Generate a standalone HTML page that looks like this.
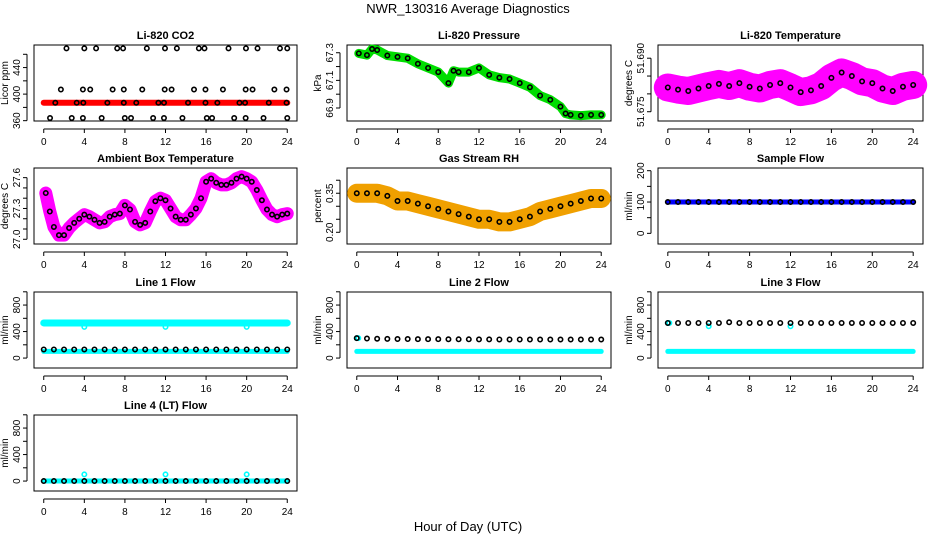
<!DOCTYPE html>
<html><head><meta charset="utf-8"><style>
body{margin:0;background:#fff;}
svg{display:block;font-family:"Liberation Sans",sans-serif;}
</style></head><body>
<svg id="chart" width="936" height="540" viewBox="0 0 936 540">
<text x="468" y="13" text-anchor="middle" font-size="13">NWR_130316  Average Diagnostics</text>
<text x="468" y="531" text-anchor="middle" font-size="13">Hour of Day (UTC)</text>
</svg>
<script>
const hours = [0,1,2,3,4,5,6,7,8,9,10,11,12,13,14,15,16,17,18,19,20,21,22,23,24];
const xTicks = [0,4,8,12,16,20,24];
// CO2
const co2Band = [387,387,387,387,387,387,387,387,387,387,387,387,387,387,387,387,387,387,387,387,387,387,387,387,387];
const co2PtsHours = [2.24,4.0,5.16,7.24,7.82,10.16,11.95,13.12,15.29,15.84,18.21,19.93,21.07,23.28,24.0,1.69,3.86,4.58,6.79,7.89,9.71,11.92,12.6,14.81,15.94,17.66,19.9,20.58,22.73,23.93,1.14,3.25,3.9,6.27,7.89,9.12,11.3,11.85,14.22,15.94,17.11,19.29,19.84,22.18,23.93,0.62,2.76,3.86,5.71,7.99,8.6,10.78,11.85,13.67,16.07,16.59,18.77,19.9,21.66,24];
const co2PtsValues = [469,469,469,469,469,469,469,469,469,469,469,469,469,469,469,407,407,407,407,407,407,407,407,407,407,407,407,407,407,407,387,387,387,387,387,387,387,387,387,387,387,387,387,387,387,364,364,364,364,364,364,364,364,364,364,364,364,364,364,364];
// Pressure
const presHours = [0.2,1,1.5,2,3,4,5,6,7,8,9,9.5,10,11,12,13,14,15,16,17,18,19,20,20.5,21,22,23,24];
const presValues = [67.295,67.283,67.327,67.32,67.28,67.27,67.26,67.22,67.19,67.16,67.08,67.17,67.16,67.16,67.19,67.14,67.12,67.11,67.08,67.05,66.99,66.96,66.91,66.86,66.85,66.845,66.85,66.85];
// Li-820 temperature
const ltHours = [0,1,2,3,4,5,6,7,8,9,10,11,12,13,14,15,16,17,18,19,20,21,22,23,24];
const ltValues = [51.6818,51.6812,51.6808,51.6815,51.6822,51.6828,51.6822,51.6830,51.6820,51.6815,51.6825,51.6830,51.6818,51.6805,51.6810,51.6822,51.6845,51.6860,51.6850,51.6835,51.6830,51.6815,51.6808,51.6820,51.6825];
// Ambient box temperature
const ambHours = [0.2,0.6,1,1.5,2,2.5,3,3.5,4,4.5,5,5.5,6,6.5,7,7.5,8,8.5,9,9.5,10,10.5,11,11.5,12,12.5,13,13.5,14,14.5,15,15.5,16,16.5,17,17.5,18,18.5,19,19.5,20,20.5,21,21.5,22,22.5,23,23.5,24];
const ambValues = [27.45,27.27,27.12,27.04,27.04,27.11,27.16,27.2,27.24,27.22,27.19,27.16,27.17,27.22,27.24,27.25,27.33,27.29,27.17,27.14,27.16,27.27,27.37,27.4,27.38,27.3,27.22,27.19,27.19,27.24,27.3,27.4,27.56,27.59,27.55,27.53,27.53,27.55,27.59,27.61,27.59,27.56,27.48,27.38,27.29,27.24,27.22,27.24,27.25];
// Gas stream RH
const rhHours = [0,1,2,3,4,5,6,7,8,9,10,11,12,13,14,15,16,17,18,19,20,21,22,23,24];
const rhValues = [0.35,0.35,0.35,0.34,0.32,0.32,0.31,0.30,0.29,0.28,0.27,0.26,0.25,0.25,0.24,0.24,0.25,0.26,0.28,0.29,0.30,0.31,0.32,0.33,0.33];
// Flows
const sampleFlow = [100,100,100,100,100,100,100,100,100,100,100,100,100,100,100,100,100,100,100,100,100,100,100,100,100];
const line1High = [530,530,530,530,530,530,530,530,530,530,530,530,530,530,530,530,530,530,530,530,530,530,530,530,530];
const line1Low = [100,100,100,100,100,100,100,100,100,100,100,100,100,100,100,100,100,100,100,100,100,100,100,100,100];
const line1Black = [130,130,130,130,130,130,130,130,130,130,130,130,130,130,130,130,130,130,130,130,130,130,130,130,130];
const line2Cyan = [100,100,100,100,100,100,100,100,100,100,100,100,100,100,100,100,100,100,100,100,100,100,100,100,100];
const line2Black = [300,295,292,290,288,287,286,285,285,284,283,283,282,282,281,281,281,280,280,280,280,280,280,280,280];
const line3Cyan = [100,100,100,100,100,100,100,100,100,100,100,100,100,100,100,100,100,100,100,100,100,100,100,100,100];
const line3Black = [530,530,530,530,530,530,540,530,530,530,530,530,530,530,530,530,530,530,530,530,530,530,530,530,530];
const line4Cyan = [0,0,0,0,0,0,0,0,0,0,0,0,0,0,0,0,0,0,0,0,0,0,0,0,0];
const line4Black = [0,0,0,0,0,0,0,0,0,0,0,0,0,0,0,0,0,0,0,0,0,0,0,0,0];
const spikeHours = [4,12,20];
const line1Dips = [470,470,470];
const line4Spikes = [100,100,100];
const startHours = [0,0.15];
const line2Start = [300,300];
const line3Start = [530,530];
const line3DipHours = [4,12];
const line3Dips = [480,480];

const svg = document.getElementById('chart');
const NS = 'http://www.w3.org/2000/svg';
const cols = [[34,297],[347,611],[658,923]];
const rowTops = [45,168,292,415];
const H = 76;
function mk(tag, attrs, parent){const e=document.createElementNS(NS,tag);for(const k in attrs)e.setAttribute(k,attrs[k]);(parent||svg).appendChild(e);return e;}

function panel(col,row,name,title,ylab,ylim,ticks,labels){
  const L=cols[col][0],R=cols[col][1],T=rowTops[row],B=T+H,W=R-L,pad=W*0.04/1.08;
  const g=mk('g',{});
  
  
  const sx=h=>L+pad+h/24*(W-2*pad);
  const sy=v=>B-(v-ylim[0])/(ylim[1]-ylim[0])*H;
  const box=mk('rect',{x:L,y:T,width:W,height:H,fill:'none',stroke:'#000','stroke-width':1},g);
  
  
  const tt=mk('text',{x:(L+R)/2,y:T-6,'text-anchor':'middle','font-size':11,'font-weight':'bold'},g);
  tt.textContent=title;
  
  
  mk('line',{x1:sx(0),x2:sx(24),y1:B+8,y2:B+8,stroke:'#000'},g);
  xTicks.forEach(t=>{
    mk('line',{x1:sx(t),x2:sx(t),y1:B+8,y2:B+12,stroke:'#000'},g);
    const tx=mk('text',{x:sx(t),y:B+24,'text-anchor':'middle','font-size':10},g);
    tx.textContent=t;
    
    
  });
  mk('line',{x1:L-7,x2:L-7,y1:sy(ticks[0]),y2:sy(ticks[ticks.length-1]),stroke:'#000'},g);
  ticks.forEach((t,i)=>{
    mk('line',{x1:L-11,x2:L-7,y1:sy(t),y2:sy(t),stroke:'#000'},g);
    if(labels[i]){
      const ty=mk('text',{x:L-14,y:sy(t),'text-anchor':'middle','font-size':10,transform:`rotate(-90 ${L-14} ${sy(t)})`},g);
      ty.textContent=labels[i];
      
      
    }
  });
  const yl=mk('text',{x:L-26,y:(T+B)/2,'text-anchor':'middle','font-size':10,transform:`rotate(-90 ${L-26} ${(T+B)/2})`},g);
  yl.textContent=ylab;
  
  
  const clip=mk('g',{},g);
  return {
    band(xs,ys,color,w,nm){
      const p=mk('polyline',{points:xs.map((h,i)=>sx(h)+','+sy(ys[i])).join(' '),fill:'none',stroke:color,'stroke-width':w,'stroke-linejoin':'round','stroke-linecap':'round'},clip);
      
      
    },
    pts(xs,ys,color,nm,r){
      xs.forEach((h,i)=>{
        const c=mk('circle',{cx:sx(h),cy:sy(ys[i]),r:r||2.2,fill:'none',stroke:color,'stroke-width':1.6},clip);
        
        
      });
    }
  };
}

let p;
p=panel(0,0,'co2','Li-820 CO2','Licor ppm',[359.5,474],[360,380,400,420,440,460],['360','','400','','440','']);
p.band(hours,co2Band,'#ff0000',6,'co2-band');
p.pts(co2PtsHours,co2PtsValues,'#000','co2-point');

p=panel(1,0,'pressure','Li-820 Pressure','kPa',[66.806,67.356],[66.9,67.0,67.1,67.2,67.3],['66.9','','67.1','','67.3']);
p.band(presHours,presValues,'#00dd00',9,'pressure-band');
p.pts(presHours,presValues,'#000','pressure-point');

p=panel(2,0,'li820-temp','Li-820 Temperature','degrees C',[51.6724,51.6937],[51.675,51.680,51.685,51.690],['51.675','','','51.690']);
p.band(ltHours,ltValues,'#ff00ff',28,'li820-temp-band');
p.pts(ltHours,ltValues,'#000','li820-temp-point');

p=panel(0,1,'ambient','Ambient Box Temperature','degrees C',[26.954,27.694],[27.0,27.1,27.2,27.3,27.4,27.5,27.6],['27.0','','','27.3','','','27.6']);
p.band(ambHours,ambValues,'#ff00ff',13,'ambient-band');
p.pts(ambHours,ambValues,'#000','ambient-point');

p=panel(1,1,'rh','Gas Stream RH','percent',[0.155,0.447],[0.20,0.25,0.30,0.35,0.40],['0.20','','','0.35','']);
p.band(rhHours,rhValues,'#f0a000',19,'rh-band');
p.pts(rhHours,rhValues,'#000','rh-point');

p=panel(2,1,'sample-flow','Sample Flow','ml/min',[-34,208.6],[0,50,100,150,200],['0','','100','','200']);
p.band(hours,sampleFlow,'#0000ff',5,'sample-flow-band');
p.pts(hours,sampleFlow,'#000','sample-flow-point');

const flowTicks=[0,200,400,600,800,1000], flowLabels=['0','','400','','800',''];
p=panel(0,2,'line1','Line 1 Flow','ml/min',[-150,997],flowTicks,flowLabels);
p.band(hours,line1High,'#00ffff',7,'line1-high-band');
p.band(hours,line1Low,'#00ffff',5,'line1-low-band');
p.pts(spikeHours,line1Dips,'#00ffff','line1-dip');
p.pts(hours,line1Black,'#000','line1-point');

p=panel(1,2,'line2','Line 2 Flow','ml/min',[-150,997],flowTicks,flowLabels);
p.band(hours,line2Cyan,'#00ffff',5,'line2-band');
p.pts(startHours,line2Start,'#00ffff','line2-start');
p.pts(hours,line2Black,'#000','line2-point');

p=panel(2,2,'line3','Line 3 Flow','ml/min',[-150,997],flowTicks,flowLabels);
p.band(hours,line3Cyan,'#00ffff',5,'line3-band');
p.pts(startHours,line3Start,'#00ffff','line3-start');
p.pts(line3DipHours,line3Dips,'#00ffff','line3-dip');
p.pts(hours,line3Black,'#000','line3-point');

p=panel(0,3,'line4','Line 4 (LT) Flow','ml/min',[-150,997],flowTicks,flowLabels);
p.band(hours,line4Cyan,'#00ffff',5,'line4-band');
p.pts(spikeHours,line4Spikes,'#00ffff','line4-spike');
p.pts(hours,line4Black,'#000','line4-point');
</script>
</body></html>
